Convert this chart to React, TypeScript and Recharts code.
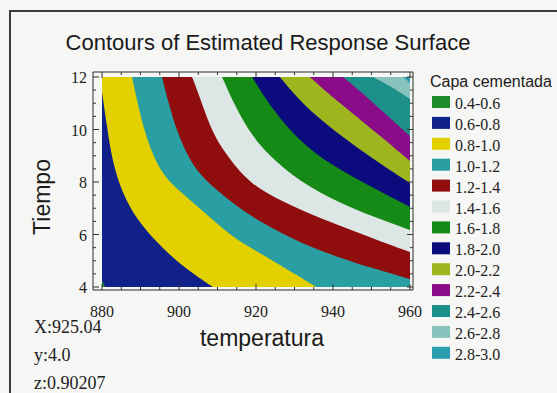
import { ComposedChart, Area, XAxis, YAxis } from 'recharts';

const SANS = '"Liberation Sans", Arial, sans-serif';
const SERIF = '"Liberation Serif", "Times New Roman", serif';

const titleText = 'Contours of Estimated Response Surface';
const xLabel = 'temperatura';
const yLabel = 'Tiempo';
const legendTitle = 'Capa cementada';
const readout = ['X:925.04', 'y:4.0', 'z:0.90207'];

const legendLabels = [
  '0.4-0.6', '0.6-0.8', '0.8-1.0', '1.0-1.2', '1.2-1.4', '1.4-1.6', '1.6-1.8',
  '1.8-2.0', '2.0-2.2', '2.2-2.4', '2.4-2.6', '2.6-2.8', '2.8-3.0',
];
const legendColors = [
  '#1d8c2a', '#10228a', '#e3d000', '#2a9fa3', '#8f0d0d', '#dbe6e5', '#168a16',
  '#0b0b7e', '#9eb51e', '#8a0c89', '#1d9189', '#88c2bd', '#2a9db0',
];

const xMajor = [880, 900, 920, 940, 960];
const xMinor = [885, 890, 895, 905, 910, 915, 925, 930, 935, 945, 950, 955];
const yMajor = [4, 6, 8, 10, 12];
const yMinor = [4.5, 5, 5.5, 6.5, 7, 7.5, 8.5, 9, 9.5, 10.5, 11, 11.5];

// contour lines, [temperatura, tiempo]
const edge06 = [[880, 4.25], [880.8, 4.0]];
const edge08 = [[880, 11.43], [881.3, 10.1], [882.6, 8.84], [885.2, 7.58], [889.1, 6.55], [894.3, 5.68], [901.0, 4.76], [908.8, 4.0]];
const edge10 = [[887.8, 12], [889.1, 11.09], [891.2, 9.79], [894.6, 8.53], [898.2, 7.89], [902.9, 7.31], [906.8, 6.82], [914.0, 5.87], [922.9, 5.14], [931.4, 4.38], [935.6, 4.0]];
const edge12 = [[895.6, 12], [897.1, 11.09], [899.7, 9.79], [903.4, 8.65], [907.5, 7.96], [914.6, 7.12], [921.0, 6.48], [932.7, 5.6], [941.3, 5.14], [950.1, 4.72], [960, 4.3]];
const edge14 = [[903.4, 12], [905.5, 11.2], [908.8, 9.79], [913.3, 8.84], [918.4, 7.96], [924.9, 7.39], [932.7, 6.86], [941.3, 6.36], [950.1, 5.87], [960, 5.33]];
const edge16 = [[911.2, 12], [913.8, 11.12], [917.9, 9.98], [923.1, 9.03], [931.4, 8.0], [941.8, 7.2], [950.1, 6.7], [960, 6.17]];
const edge18 = [[919.0, 12], [922.3, 11.2], [927.5, 10.17], [934.0, 9.22], [941.8, 8.46], [950.1, 7.81], [960, 7.05]];
const edge20 = [[926.2, 12], [930.1, 11.31], [935.3, 10.55], [941.8, 9.79], [950.1, 8.91], [960, 7.96]];
const edge22 = [[934.0, 12], [939.2, 11.31], [945.7, 10.55], [953.5, 9.6], [960, 8.8]];
const edge24 = [[942.6, 12], [948.3, 11.31], [954.8, 10.44], [960, 9.75]];
const edge26 = [[950.4, 12], [954.8, 11.66], [960, 11.16]];
const edge28 = [[958.2, 12], [960, 11.77]];
const fullTop = [[880, 12], [960, 12]];

// region below each edge gets the colour of the band under that level
const layers = [
  { pts: fullTop, band: 12 },
  { pts: edge28, band: 11 },
  { pts: edge26, band: 10 },
  { pts: edge24, band: 9 },
  { pts: edge22, band: 8 },
  { pts: edge20, band: 7 },
  { pts: edge18, band: 6 },
  { pts: edge16, band: 5 },
  { pts: edge14, band: 4 },
  { pts: edge12, band: 3 },
  { pts: edge10, band: 2 },
  { pts: edge08, band: 1 },
  { pts: edge06, band: 0 },
];

// edges entering through the top: flat run from the left corner, top point
// repeated so the smoothed curve still passes through it
function toData(pts: number[][]) {
  const p = pts[0][1] >= 12 && pts[0][0] > 880 ? [[880, 12], pts[0], pts[0], ...pts] : pts;
  return p.map(([x, y]) => ({ x, y }));
}

const xDomain = [877.66, 960.78];
const yDomain = [3.886, 12.19];

function makeTick(side: 'left' | 'right' | 'top' | 'bottom') {
  return (p: any) => {
    const v = p.payload.value;
    const major = side === 'left' || side === 'right' ? yMajor.includes(v) : xMajor.includes(v);
    const len = major ? 6 : 3;
    let x2 = p.x, y2 = p.y;
    if (side === 'left') x2 = p.x + len;
    if (side === 'right') x2 = p.x - len;
    if (side === 'top') y2 = p.y + len;
    if (side === 'bottom') y2 = p.y - len;
    return (
      <g>
        <line x1={p.x} y1={p.y} x2={x2} y2={y2} stroke="#333" strokeWidth={1} />
        {major && side === 'left' && (
          <text x={p.x - 6} y={p.y} dy="0.4em" textAnchor="end" fontFamily={SERIF} fontSize={16} fill="#222">{v}</text>
        )}
        {major && side === 'bottom' && (
          <text x={p.x} y={p.y + 27} textAnchor="middle" fontFamily={SERIF} fontSize={16} fill="#222">{v}</text>
        )}
      </g>
    );
  };
}

export default function App() {
  return (
    <div style={{ position: 'absolute', left: 0, top: 0, width: 557, height: 393, overflow: 'hidden', background: '#f6f6f4' }}>
      <div style={{ position: 'absolute', left: 9, top: 10, width: 700, height: 500, border: '2px solid #3a3a3a' }} />
      <div style={{ position: 'absolute', left: 0, top: 0 }}>
        <ComposedChart width={557} height={393} margin={{ top: 71, right: 143, left: 92, bottom: 102 }}>
          <XAxis type="number" dataKey="x" domain={xDomain} allowDataOverflow ticks={[...xMajor, ...xMinor]}
            height={1} tickSize={0} tickMargin={0} stroke="#2a2a2a" tick={makeTick('bottom')} interval={0} />
          <XAxis xAxisId="top" orientation="top" type="number" dataKey="x" domain={xDomain} allowDataOverflow
            ticks={[...xMajor, ...xMinor]} height={1} tickSize={0} tickMargin={0} stroke="#2a2a2a" tick={makeTick('top')} interval={0} />
          <YAxis type="number" dataKey="y" domain={yDomain} allowDataOverflow ticks={[...yMajor, ...yMinor]}
            width={1} tickSize={0} tickMargin={0} stroke="#2a2a2a" tick={makeTick('left')} interval={0} />
          <YAxis yAxisId="right" orientation="right" type="number" domain={yDomain} allowDataOverflow
            ticks={[...yMajor, ...yMinor]} width={1} tickSize={0} tickMargin={0} stroke="#2a2a2a" tick={makeTick('right')} interval={0} />
          {layers.map((l, i) => (
            <Area key={i} data={toData(l.pts)} type="basis" dataKey="y" baseValue={4}
              stroke="none" fill={legendColors[l.band]} fillOpacity={1}
              dot={false} activeDot={false} isAnimationActive={false} />
          ))}
        </ComposedChart>
      </div>
      <svg width={557} height={393} style={{ position: 'absolute', left: 0, top: 0, pointerEvents: 'none' }}>
        <text x={268} y={50} textAnchor="middle" fontFamily={SANS} fontSize={22} fill="#1a1a1a">{titleText}</text>
        <text x={262} y={346} textAnchor="middle" fontFamily={SANS} fontSize={23} fill="#1a1a1a">{xLabel}</text>
        <text transform="translate(50,197) rotate(-90)" textAnchor="middle" fontFamily={SANS} fontSize={23} fill="#1a1a1a">{yLabel}</text>
        {readout.map((r, i) => (
          <text key={r} x={34} y={333 + i * 28} fontFamily={SERIF} fontSize={18} fill="#222">{r}</text>
        ))}
        <text x={430} y={87} fontFamily={SANS} fontSize={16} fill="#1a1a1a">{legendTitle}</text>
        {legendLabels.map((lab, i) => {
          const cy = 103 + i * 20.9;
          return (
            <g key={lab}>
              <rect x={432} y={cy - 7} width={18} height={12} fill={legendColors[i]} />
              <text x={455} y={cy + 6} fontFamily={SERIF} fontSize={16} fill="#222">{lab}</text>
            </g>
          );
        })}
      </svg>
    </div>
  );
}
